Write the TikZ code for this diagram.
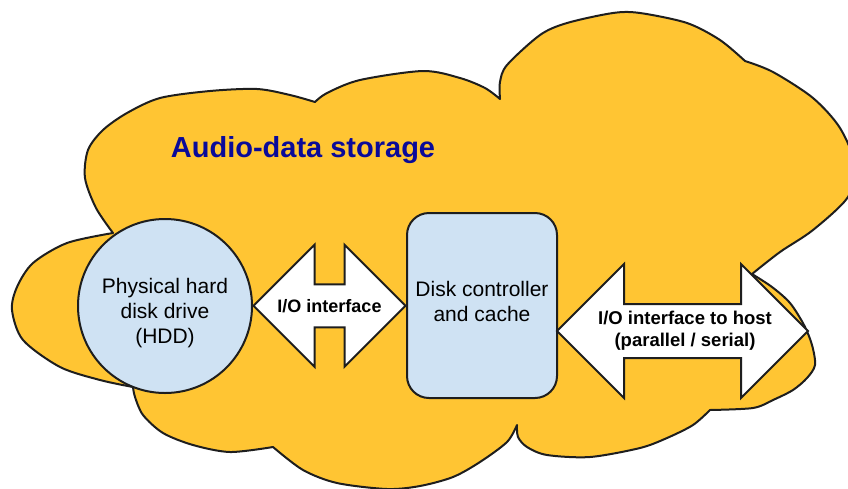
\documentclass[tikz,border=0pt]{standalone}
\usepackage{fontspec}
\setmainfont{Liberation Sans}
\usetikzlibrary{shapes.arrows,calc}
\definecolor{cloudfill}{HTML}{FFC533}
\definecolor{boxfill}{HTML}{CFE2F3}
\definecolor{titleblue}{HTML}{0A0A99}
\definecolor{edgegray}{HTML}{1E1E1E}
\begin{document}
\begin{tikzpicture}[x=1pt,y=-1pt,line width=2pt,line join=round]
            \useasboundingbox (0,0) rectangle (848,488);

            \filldraw[fill=cloudfill,draw=edgegray]
                plot[smooth] coordinates {(113,233) (96,208) (85,178) (88,150) (103,130) (127,113) (160,98) (210,91) (257,89) (290,95) (315,102)}
                -- plot[smooth] coordinates {(315,102) (327,93) (360,80) (423,71) (460,78) (485,88) (500,99)}
                -- plot[smooth] coordinates {(500,99) (500,82) (507,65) (540,35) (567,23) (613,13) (640,13) (687,23) (720,40) (745,61)}
                -- plot[smooth] coordinates {(745,61) (773,72) (813,98) (840,128) (855,165) (848,197) (813,230) (780,252) (752,274)}
                -- plot[smooth] coordinates {(752,274) (772,287) (790,303) (804,325) (812,345) (815,365) (807,378) (793,390) (773,400) (753,408) (710,410)}
                -- plot[smooth] coordinates {(710,410) (693,425) (667,438) (640,448) (590,457) (547,455) (527,447) (518,437) (517,425)}
                -- plot[smooth] coordinates {(517,425) (507,442) (480,462) (453,477) (420,486) (387,489) (337,483) (303,470) (273,447)}
                -- plot[smooth] coordinates {(273,447) (230,452) (193,445) (163,433) (143,415) (135,397) (133,387)}
                -- plot[smooth] coordinates {(133,387) (100,380) (60,367) (23,340) (12,310) (17,287) (33,263) (67,243) (113,233)}
                -- cycle;

            \node[font=\bfseries\fontsize{29}{34}\selectfont,text=titleblue] (title) at (303,150) {Audio-data storage};

            \begin{scope}[every node/.style={draw=edgegray,fill=boxfill,align=center,font=\fontsize{21}{25}\selectfont}]
                \node[circle,minimum size=174,inner sep=0] (hdd) at (165,306) {};
                \node[rounded corners=22,minimum width=150,minimum height=185,text depth=8pt] (ctrl) at (482,305.5) {Disk controller\\and cache};
            \end{scope}

            \begin{scope}[every node/.style={double arrow,draw=edgegray,fill=white,line join=miter,inner xsep=0}]
                \node[inner ysep=20.5,double arrow head extend=39.5,minimum width=120,minimum height=152] (io) at ($(hdd.east)!0.5!(ctrl.west)$) {};
                \node[inner ysep=26,double arrow head extend=40,minimum width=132,minimum height=251] (host) at (682.5,331) {};
            \end{scope}

            \begin{scope}[every node/.style={align=center}]
                \node[font=\fontsize{21}{25}\selectfont] (hddtext) at (165,313) {Physical hard\\disk drive\\(HDD)};
                \node[font=\bfseries\fontsize{18}{22}\selectfont] (iotext) at (io) {I/O interface};
                \node[font=\bfseries\fontsize{18.5}{22}\selectfont] (hosttext) at (685,331) {I/O interface to host\\(parallel / serial)};
            \end{scope}
            \end{tikzpicture}
\end{document}
